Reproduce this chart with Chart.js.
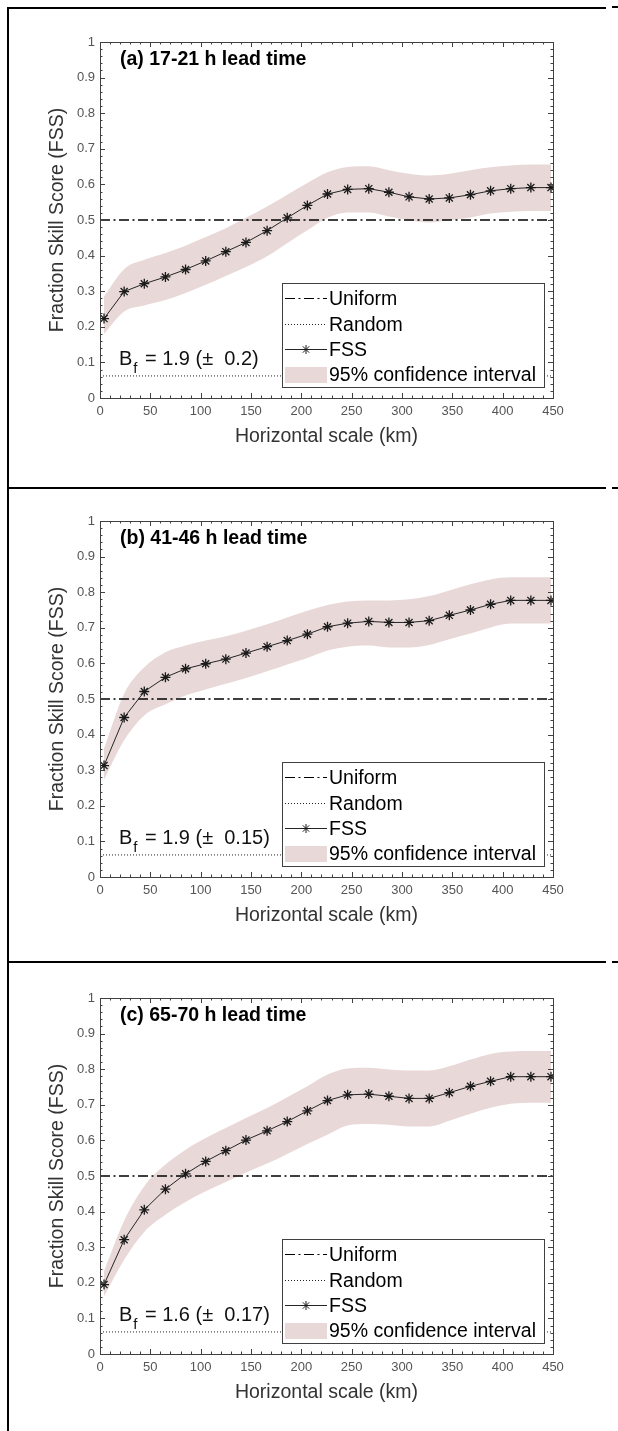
<!DOCTYPE html>
<html>
<head>
<meta charset="utf-8">
<script src="https://cdn.jsdelivr.net/npm/chart.js@4.4.1/dist/chart.umd.min.js"></script>
<style>
  body { margin: 0; background: #fff; width: 618px; height: 1431px; position: relative; overflow: hidden; }
  .panel { position: absolute; left: 0; width: 618px; height: 470px; }
  .hline { position: absolute; height: 2px; background: #000; z-index: 2; }
  .vline { position: absolute; width: 2px; background: #000; z-index: 2; }
</style>
</head>
<body>
<div class="vline" style="left:7px;top:7px;height:1424px"></div>
<div class="hline" style="left:7px;top:7px;width:599px"></div>
<div class="hline" style="left:612px;top:6px;width:6px"></div>
<div class="hline" style="left:7px;top:487px;width:599px"></div>
<div class="hline" style="left:612px;top:487px;width:6px"></div>
<div class="hline" style="left:7px;top:961px;width:599px"></div>
<div class="hline" style="left:612px;top:961px;width:6px"></div>

<div class="panel" style="top:8px"><canvas id="graficoA" width="618" height="470"></canvas></div>
<div class="panel" style="top:487px"><canvas id="graficoB" width="618" height="470"></canvas></div>
<div class="panel" style="top:964px"><canvas id="graficoC" width="618" height="470"></canvas></div>

<script>
// Escala horizontal (km) de cada punto
const escalaKm = [4, 24, 44, 65, 85, 105, 125, 145, 166, 186, 206, 226, 246, 267, 287, 307, 327, 347, 368, 388, 408, 428, 448];
const limitesX = [0, 450];
const nivelUniforme = 0.5;
const nivelAleatorio = 0.062;

// (a) 17-21 h
const fssA = [0.223, 0.299, 0.321, 0.340, 0.361, 0.385, 0.411, 0.437, 0.470, 0.506, 0.541, 0.573, 0.586, 0.588, 0.578, 0.565, 0.559, 0.562, 0.571, 0.582, 0.588, 0.591, 0.591];
const superiorA = [0.285, 0.362, 0.388, 0.407, 0.428, 0.452, 0.477, 0.506, 0.538, 0.571, 0.604, 0.634, 0.649, 0.651, 0.640, 0.630, 0.625, 0.630, 0.640, 0.648, 0.653, 0.656, 0.656];
const inferiorA = [0.180, 0.243, 0.260, 0.275, 0.295, 0.318, 0.343, 0.368, 0.398, 0.435, 0.471, 0.506, 0.521, 0.521, 0.510, 0.499, 0.493, 0.499, 0.507, 0.518, 0.523, 0.525, 0.525];

// (b) 41-46 h
const fssB = [0.313, 0.448, 0.521, 0.561, 0.585, 0.599, 0.612, 0.629, 0.647, 0.664, 0.682, 0.703, 0.713, 0.718, 0.715, 0.715, 0.720, 0.735, 0.750, 0.766, 0.777, 0.777, 0.777];
const superiorB = [0.361, 0.515, 0.589, 0.631, 0.650, 0.664, 0.676, 0.692, 0.710, 0.729, 0.748, 0.764, 0.774, 0.777, 0.777, 0.780, 0.789, 0.805, 0.822, 0.836, 0.842, 0.842, 0.842];
const inferiorB = [0.273, 0.384, 0.454, 0.485, 0.510, 0.527, 0.543, 0.559, 0.578, 0.597, 0.615, 0.636, 0.647, 0.650, 0.645, 0.645, 0.652, 0.668, 0.684, 0.701, 0.712, 0.712, 0.712];

// (c) 65-70 h
const fssC = [0.195, 0.321, 0.405, 0.463, 0.506, 0.541, 0.571, 0.601, 0.627, 0.653, 0.683, 0.712, 0.728, 0.730, 0.724, 0.718, 0.718, 0.734, 0.752, 0.766, 0.779, 0.779, 0.779];
const superiorC = [0.232, 0.374, 0.471, 0.532, 0.574, 0.607, 0.635, 0.663, 0.691, 0.721, 0.752, 0.785, 0.802, 0.804, 0.799, 0.796, 0.796, 0.808, 0.827, 0.843, 0.850, 0.851, 0.851];
const inferiorC = [0.162, 0.265, 0.343, 0.391, 0.427, 0.457, 0.483, 0.510, 0.535, 0.562, 0.590, 0.616, 0.642, 0.646, 0.644, 0.639, 0.639, 0.655, 0.675, 0.692, 0.703, 0.706, 0.706];

const titulos = ['(a) 17-21 h lead time', '(b) 41-46 h lead time', '(c) 65-70 h lead time'];
const sesgos = ['1.9 (\u00b1 0.2)', '1.9 (\u00b1 0.15)', '1.6 (\u00b1 0.17)'];
const etiquetasLeyenda = ['Uniform', 'Random', 'FSS', '95% confidence interval'];

const FUENTE = '"Liberation Sans", Arial, Helvetica, sans-serif';
const colorBanda = 'rgb(233, 216, 216)';
const colorLinea = '#262626';
const colorEjes = '#404040';

Chart.defaults.font.family = FUENTE;

const puntos = (valores) => valores.map((v, i) => ({ x: escalaKm[i], y: v }));
const horizontal = (nivel) => limitesX.map(x => ({ x, y: nivel }));

// Caja, marcas interiores, título, B_f y leyenda al estilo MATLAB
const marcoMatlab = {
  id: 'marcoMatlab',
  afterDatasetsDraw(chart, args, opts) {
    const ctx = chart.ctx;
    const { left, right, top, bottom } = chart.chartArea;
    const sx = chart.scales.x;
    const sy = chart.scales.y;

    ctx.save();
    ctx.strokeStyle = colorEjes;
    ctx.lineWidth = 1;
    ctx.setLineDash([]);
    ctx.strokeRect(Math.round(left) + 0.5, Math.round(top) + 0.5, Math.round(right - left), Math.round(bottom - top));

    ctx.beginPath();
    for (let k = 0; k <= 45; k++) {
      const px = Math.round(sx.getPixelForValue(k * 10)) + 0.5;
      const len = k % 5 === 0 ? 5 : 2.5;
      ctx.moveTo(px, bottom); ctx.lineTo(px, bottom - len);
      ctx.moveTo(px, top); ctx.lineTo(px, top + len);
    }
    for (let k = 0; k <= 50; k++) {
      const py = Math.round(sy.getPixelForValue(k * 0.02)) + 0.5;
      const len = k % 5 === 0 ? 5 : 2.5;
      ctx.moveTo(left, py); ctx.lineTo(left + len, py);
      ctx.moveTo(right, py); ctx.lineTo(right - len, py);
    }
    ctx.stroke();

    // Título del panel
    ctx.fillStyle = '#000';
    ctx.font = 'bold 19.5px ' + FUENTE;
    ctx.textBaseline = 'middle';
    ctx.textAlign = 'left';
    ctx.fillText(opts.titulo, left + 20, top + 18);

    // B_f
    const yB = bottom - 39;
    ctx.font = '20px ' + FUENTE;
    ctx.fillStyle = '#111';
    ctx.fillText('B', left + 19, yB);
    const anchoB = ctx.measureText('B').width;
    ctx.font = '15px ' + FUENTE;
    ctx.fillText('f', left + 19 + anchoB + 1, yB + 10);
    ctx.font = '20px ' + FUENTE;
    ctx.fillText(' = ' + opts.sesgo.replace('\u00b1 ', '\u00b1  '), left + 19 + anchoB + 7, yB);

    // Leyenda
    const ds = chart.data.datasets;
    const lx = left + 182, lr = right - 9;
    const lb = bottom - 11, lt = lb - 104;
    ctx.fillStyle = '#fff';
    ctx.fillRect(lx, lt, lr - lx, lb - lt);
    ctx.strokeStyle = colorEjes;
    ctx.lineWidth = 1;
    ctx.strokeRect(Math.round(lx) + 0.5, Math.round(lt) + 0.5, Math.round(lr - lx), Math.round(lb - lt));

    const filas = [Math.round(lt + 15) + 0.5, Math.round(lt + 40.5) + 0.5, Math.round(lt + 66) + 0.5, lt + 92];
    const m0 = lx + 3, m1 = lx + 45;
    // Uniform
    ctx.strokeStyle = ds[1].borderColor;
    ctx.lineWidth = 1.2;
    ctx.setLineDash(ds[1].borderDash);
    ctx.beginPath(); ctx.moveTo(m0, filas[0]); ctx.lineTo(m1, filas[0]); ctx.stroke();
    // Random
    ctx.lineWidth = 1;
    ctx.strokeStyle = ds[2].borderColor;
    ctx.setLineDash(ds[2].borderDash);
    ctx.beginPath(); ctx.moveTo(m0, filas[1]); ctx.lineTo(m1, filas[1]); ctx.stroke();
    // FSS
    ctx.setLineDash([]);
    ctx.strokeStyle = ds[0].borderColor;
    ctx.beginPath(); ctx.moveTo(m0, filas[2]); ctx.lineTo(m1, filas[2]); ctx.stroke();
    ctx.strokeStyle = ds[0].pointBorderColor;
    Chart.helpers.drawPoint(ctx, {
      pointStyle: 'star', radius: 4.5, rotation: 0, borderWidth: 1.2
    }, (m0 + m1) / 2, filas[2]);
    // Banda
    ctx.fillStyle = colorBanda;
    ctx.fillRect(m0, filas[3] - 8, m1 - m0, 16);

    ctx.fillStyle = '#000';
    ctx.font = '19.5px ' + FUENTE;
    ctx.textBaseline = 'middle';
    etiquetasLeyenda.forEach((t, i) => ctx.fillText(t, m1 + 2, filas[i] + 1));
    ctx.restore();
  }
};

function crearGrafico(idCanvas, fss, superior, inferior, indice) {
  return new Chart(document.getElementById(idCanvas), {
    type: 'line',
    data: {
      datasets: [
        {
          label: 'FSS',
          data: puntos(fss),
          borderColor: colorLinea,
          borderWidth: 1,
          pointStyle: 'star',
          pointRadius: 5,
          pointBorderColor: '#1a1a1a',
          pointBorderWidth: 1.3,
          tension: 0,
          fill: false
        },
        {
          label: 'Uniform',
          data: horizontal(nivelUniforme),
          borderColor: '#000',
          borderWidth: 1.3,
          borderDash: [10, 3.5, 2, 3.5],
          pointRadius: 0,
          fill: false
        },
        {
          label: 'Random',
          data: horizontal(nivelAleatorio),
          borderColor: '#222',
          borderWidth: 1,
          borderDash: [1, 2],
          pointRadius: 0,
          fill: false
        },
        {
          label: '95% confidence interval',
          data: puntos(superior),
          borderWidth: 0,
          borderColor: 'rgba(0,0,0,0)',
          backgroundColor: colorBanda,
          pointRadius: 0,
          cubicInterpolationMode: 'monotone',
          fill: '+1'
        },
        {
          label: 'inferior',
          data: puntos(inferior),
          borderWidth: 0,
          borderColor: 'rgba(0,0,0,0)',
          pointRadius: 0,
          cubicInterpolationMode: 'monotone',
          fill: false
        }
      ]
    },
    options: {
      responsive: false,
      animation: false,
      layout: { padding: { top: 34, right: 65, left: 0, bottom: 0 } },
      plugins: {
        legend: { display: false },
        tooltip: { enabled: false },
        marcoMatlab: { titulo: titulos[indice], sesgo: sesgos[indice] }
      },
      scales: {
        x: {
          type: 'linear',
          min: limitesX[0],
          max: limitesX[1],
          grid: { display: false, drawTicks: false },
          border: { display: false },
          ticks: { stepSize: 50, color: '#555', font: { size: 13 }, padding: 6, maxRotation: 0 },
          title: { display: true, text: 'Horizontal scale (km)', color: '#333', font: { size: 19.5 }, padding: { top: 0, bottom: 30 } },
          afterFit: (s) => { s.height = 80; }
        },
        y: {
          min: 0,
          max: 1,
          grid: { display: false, drawTicks: false },
          border: { display: false },
          ticks: {
            stepSize: 0.1, color: '#555', font: { size: 13 }, padding: 5,
            callback: (v) => String(Number(v.toFixed(2)))
          },
          title: { display: true, text: 'Fraction Skill Score (FSS)', color: '#333', font: { size: 19.5 }, padding: { top: 46, bottom: 0 } },
          afterFit: (s) => { s.width = 100; }
        }
      }
    },
    plugins: [marcoMatlab]
  });
}

crearGrafico('graficoA', fssA, superiorA, inferiorA, 0);
crearGrafico('graficoB', fssB, superiorB, inferiorB, 1);
crearGrafico('graficoC', fssC, superiorC, inferiorC, 2);
</script>
</body>
</html>
